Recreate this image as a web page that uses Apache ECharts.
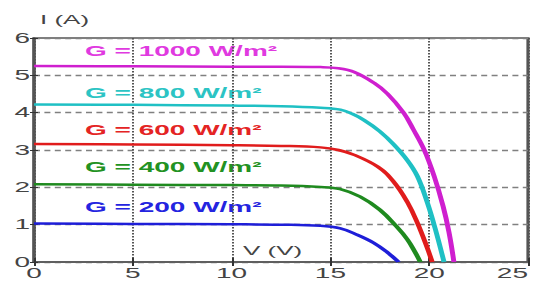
<!DOCTYPE html>
<html>
<head>
<meta charset="utf-8">
<script src="https://cdn.jsdelivr.net/npm/echarts@6/dist/echarts.min.js"></script>
<style>
  html, body { margin: 0; padding: 0; background: #fff; overflow: hidden; }
  /* the original figure is stretched horizontally about 2x, so draw at half width and stretch */
  #chart { width: 269.5px; height: 282px; transform: scaleX(2); transform-origin: 0 0; }
</style>
</head>
<body>
<div id="chart"></div>
<script>
// I-V curves, [voltage V, current A]
const g1000 = [[0, 5.25], [5, 5.24], [10, 5.23], [12.5, 5.23], [14.5, 5.22], [15.4, 5.19], [16.2, 5.09],
  [17.2, 4.8], [17.9, 4.5], [18.7, 4.0], [19.2, 3.55], [19.75, 3.0], [20.25, 2.3], [20.7, 1.5], [21.0, 0.8], [21.25, 0]];
const g800 = [[0, 4.22], [5, 4.21], [10, 4.19], [12.5, 4.17], [14.5, 4.13], [15.5, 4.08], [16.1, 3.97],
  [16.7, 3.8], [17.5, 3.5], [18.2, 3.15], [18.9, 2.72], [19.4, 2.3], [19.9, 1.6], [20.3, 0.9], [20.75, 0]];
const g600 = [[0, 3.16], [5, 3.15], [10, 3.13], [12.5, 3.11], [14.5, 3.07], [15.4, 3.0], [16.2, 2.87],
  [17.4, 2.55], [18.2, 2.15], [18.9, 1.6], [19.4, 1.05], [19.9, 0.38], [20.15, 0]];
const g400 = [[0, 2.08], [5, 2.07], [10, 2.06], [12.5, 2.05], [14.5, 2.01], [15.5, 1.95], [16.5, 1.75],
  [17.5, 1.4], [18.35, 0.95], [18.9, 0.6], [19.3, 0.25], [19.55, 0]];
const g200 = [[0, 1.03], [5, 1.02], [10, 1.01], [12.5, 1.0], [14.5, 0.97], [15.5, 0.9], [16.35, 0.73],
  [17.2, 0.51], [17.9, 0.25], [18.45, 0]];

const seriesNames = ['G = 1000 W/m²', 'G = 800 W/m²', 'G = 600 W/m²', 'G = 400 W/m²', 'G = 200 W/m²'];
const seriesData = [g1000, g800, g600, g400, g200];
const lineColors = ['#cf1fcf', '#1fc0c4', '#e01c1c', '#1f8a1f', '#1e1ed8'];
const textColors = ['#e03ae0', '#2cc4c4', '#e42424', '#229222', '#2424e0'];
const xTicks = [0, 5, 10, 15, 20, 25];
const yTicks = [0, 1, 2, 3, 4, 5, 6];

const chart = echarts.init(document.getElementById('chart'), null, { renderer: 'svg' });

const labelMids = [52, 94, 131, 168, 208];
const tickFont = { color: '#444', fontSize: 14, fontFamily: 'Liberation Sans' };

const option = {
  animation: false,
  grid: {
    left: 17, top: 38, right: 6, bottom: 20, outerBoundsMode: 'none',
    show: true, borderColor: '#555', borderWidth: 1.6
  },
  xAxis: [{
    type: 'value', min: xTicks[0], max: xTicks[xTicks.length - 1], interval: 5,
    axisLine: { lineStyle: { color: '#555', width: 1.6 } },
    axisTick: { inside: true, length: 4, lineStyle: { color: '#333' } },
    axisLabel: Object.assign({ margin: 4, alignMaxLabel: 'right' }, tickFont),
    splitLine: { show: true, lineStyle: { color: '#555', type: [1.5, 1.5], width: 1 } }
  }, {
    type: 'value', position: 'top', min: 0, max: 25, interval: 5,
    axisLine: { show: false }, axisLabel: { show: false }, splitLine: { show: false },
    axisTick: { inside: true, length: 4, lineStyle: { color: '#333' } }
  }],
  yAxis: [{
    type: 'value', min: yTicks[0], max: yTicks[yTicks.length - 1], interval: 1,
    axisLine: { lineStyle: { color: '#555', width: 1.6 } },
    axisTick: { inside: true, length: 2, lineStyle: { color: '#333' } },
    axisLabel: Object.assign({ margin: 2 }, tickFont),
    splitLine: { show: true, lineStyle: { color: '#808080', type: [3, 2.2], width: 1.3 } }
  }, {
    type: 'value', position: 'right', min: 0, max: 6, interval: 1,
    axisLine: { show: false }, axisLabel: { show: false }, splitLine: { show: false },
    axisTick: { inside: true, length: 2, lineStyle: { color: '#333' } }
  }],
  series: seriesData.map((d, i) => ({
    name: seriesNames[i],
    type: 'line',
    data: d,
    smooth: 0.4,
    showSymbol: false,
    lineStyle: { color: lineColors[i], width: 2.5 },
    z: 5 - i
  })),
  graphic: [
    { type: 'text', left: 20, top: 13, style: { text: 'I (A)', fill: '#444', font: '13px "Liberation Sans"' } },
    { type: 'text', left: 121.5, top: 244, style: { text: 'V (V)', fill: '#444', font: '13px "Liberation Sans"' } }
  ].concat(seriesNames.map((name, i) => ({
    type: 'text', left: 42.5, top: labelMids[i] - 8,
    style: { text: name, fill: textColors[i], font: 'bold 14px "Liberation Sans"' }
  })))
};

chart.setOption(option);
</script>
</body>
</html>
